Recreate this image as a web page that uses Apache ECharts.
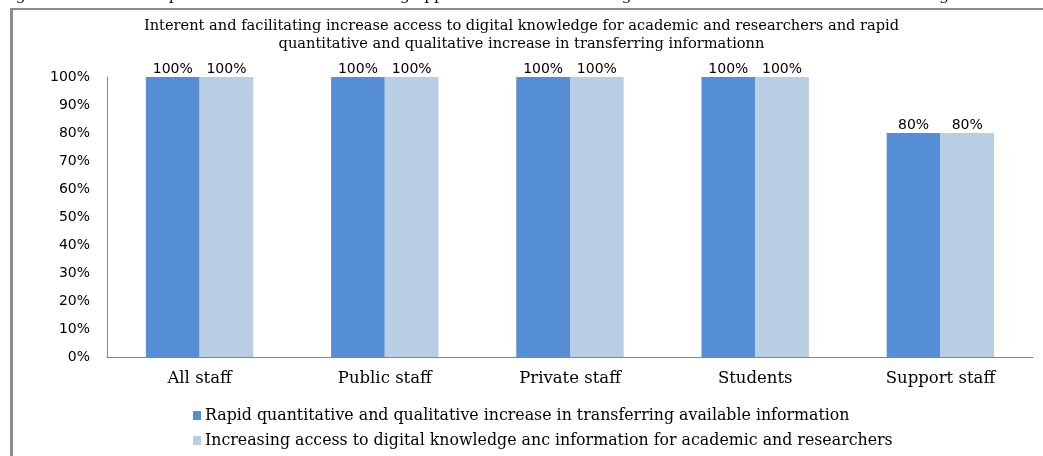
<!DOCTYPE html>
<html>
<head>
<meta charset="utf-8">
<script src="https://cdn.jsdelivr.net/npm/echarts@6/dist/echarts.min.js"></script>
<style>
    html, body { margin: 0; padding: 0; background: #fff; }
    #chart { width: 1043px; height: 456px; }
</style>
</head>
<body>
<div id="chart"></div>
<script>
// data
var categories = ['All staff', 'Public staff', 'Private staff', 'Students', 'Support staff']
var seriesNames = [
    'Rapid quantitative and qualitative increase in transferring available information',
    'Increasing access to digital knowledge anc information for academic and researchers'
]
var rapidIncrease = [100, 100, 100, 100, 80]
var digitalAccess = [100, 100, 100, 100, 80]
var yTicks = [0, 10, 20, 30, 40, 50, 60, 70, 80, 90, 100]

var chart = echarts.init(document.getElementById('chart'))

var serif = '"DejaVu Serif", "Liberation Serif", serif'
var sans = '"DejaVu Sans", sans-serif'

chart.setOption({
    animation: false,
    title: {
        text: 'Interent and facilitating increase access to digital knowledge for academic and researchers and rapid\nquantitative and qualitative increase in transferring informationn',
        left: 'center',
        top: 12,
        textStyle: {
            fontFamily: serif,
            fontSize: 14.6,
            fontWeight: 'normal',
            color: '#000',
            lineHeight: 18
        }
    },
    graphic: [
        {
            type: 'text',
            left: 0,
            top: -12,
            style: {
                text: 'Figures 10-12 The impacts of Internet in facilitating opportunities and advantages for creation and transfer of knowledge',
                font: '15.5px ' + serif,
                fill: '#000'
            }
        },
        { type: 'rect', shape: { x: 10, y: 8, width: 1033, height: 2 }, style: { fill: '#8c8c8c' } },
        { type: 'rect', shape: { x: 10, y: 8, width: 3, height: 448 }, style: { fill: '#8c8c8c' } }
    ],
    legend: {
        orient: 'vertical',
        left: 188,
        top: 402,
        itemWidth: 8,
        itemHeight: 9,
        itemGap: 8,
        icon: 'rect',
        data: seriesNames,
        textStyle: {
            fontFamily: serif,
            fontSize: 15.8,
            lineHeight: 17,
            color: '#000',
            padding: [0, 0, 0, -1]
        }
    },
    grid: {
        left: 107,
        right: 10,
        top: 77,
        bottom: 99
    },
    xAxis: {
        type: 'category',
        data: categories,
        axisLine: { lineStyle: { color: '#868686', width: 1 } },
        axisTick: { show: false },
        axisLabel: {
            fontFamily: serif,
            fontSize: 16.5,
            color: '#000',
            margin: 13
        }
    },
    yAxis: {
        type: 'value',
        min: yTicks[0],
        max: yTicks[yTicks.length - 1],
        interval: 10,
        axisLine: { show: true, lineStyle: { color: '#868686', width: 1 } },
        axisTick: { show: false },
        splitLine: { show: false },
        axisLabel: {
            fontFamily: sans,
            fontSize: 14,
            color: '#000',
            margin: 17,
            formatter: '{value}%'
        }
    },
    series: [{
        name: seriesNames[0],
        type: 'bar',
        data: rapidIncrease,
        barGap: '0%',
        barCategoryGap: '42%',
        itemStyle: { color: '#558ed5' },
        label: {
            show: true,
            position: 'top',
            distance: 1,
            fontFamily: sans,
            fontSize: 14,
            color: '#000',
            formatter: '{c}%'
        }
    }, {
        name: seriesNames[1],
        type: 'bar',
        data: digitalAccess,
        barGap: '0%',
        barCategoryGap: '42%',
        itemStyle: { color: '#b9cde5' },
        label: {
            show: true,
            position: 'top',
            distance: 1,
            fontFamily: sans,
            fontSize: 14,
            color: '#000',
            formatter: '{c}%'
        }
    }]
})
</script>
</body>
</html>
